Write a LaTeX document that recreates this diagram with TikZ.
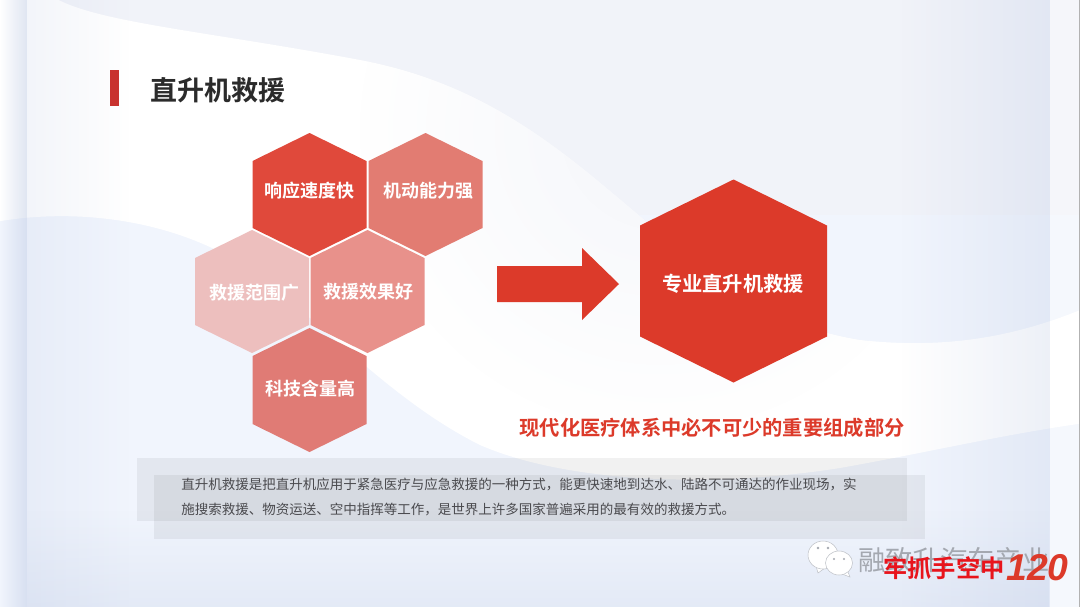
\documentclass[tikz,border=0pt]{standalone}
\usepackage{fontspec}
\setmainfont{Noto Sans CJK SC}[BoldFont={Noto Sans CJK SC Bold}]
\newfontfamily\latinit{Liberation Sans}[Scale=1]
\usetikzlibrary{fadings}
\tikzfading[name=softdisc, inner color=transparent!0, outer color=transparent!100]
\definecolor{bgtop}{HTML}{F1F3F9}
\definecolor{bgblue}{HTML}{F1F5FD}
\definecolor{stripc}{HTML}{B4C2E0}
\definecolor{redmain}{HTML}{DC3A2A}
\definecolor{redhexa}{HTML}{E0493B}
\definecolor{redhexb}{HTML}{E27C72}
\definecolor{redhexc}{HTML}{EDBFBE}
\definecolor{redhexd}{HTML}{E8918B}
\definecolor{redhexe}{HTML}{E07B75}
\definecolor{barred}{HTML}{C8322F}
\definecolor{titleink}{HTML}{2B2B2B}
\definecolor{bodyink}{HTML}{4A4A4E}
\definecolor{markgray}{HTML}{A4A8B0}
\definecolor{stampred}{HTML}{E8141C}
\tikzset{
  hexlabel/.style={text=white,font=\bfseries\fontsize{13.5}{16}\selectfont,inner sep=0pt},
  bignote/.style={font=\bfseries\fontsize{15.2}{18}\selectfont,inner sep=0pt},
  bodyline/.style={text=bodyink,font=\fontsize{10.13}{12}\selectfont,inner sep=0pt,anchor=west},
  panel/.style={fill=black,fill opacity=0.055},
  bubble/.style={fill=white,draw=markgray!70,line width=0.4pt},
  eye/.style={fill=markgray},
}
% centre x, centre y, half width, half height, shoulder drop, colour
\newcommand{\hexpath}[6]{\fill[#6] (#1,#2-#4) -- (#1+#3,#2-#4+#5) -- (#1+#3,#2+#4-#5) -- (#1,#2+#4) -- (#1-#3,#2+#4-#5) -- (#1-#3,#2-#4+#5) -- cycle;}
\newcommand{\swooshpath}{(-5,-5) -- (50,-5) .. controls (90,22) and (200,30) .. (360,60)
  .. controls (520,90) and (600,190) .. (700,265)
  .. controls (760,310) and (800,330) .. (860,340)
  .. controls (950,350) and (1020,335) .. (1085,308)
  -- (1085,423)
  .. controls (1000,435) and (930,452) .. (840,468)
  .. controls (700,490) and (560,480) .. (480,445)
  .. controls (400,405) and (340,340) .. (270,285)
  .. controls (200,225) and (90,205) .. (-5,222) -- cycle}
\begin{document}
\begin{tikzpicture}[x=0.75pt,y=-0.75pt]
\useasboundingbox (0,0) rectangle (1080,607);
\begin{scope}
\clip (0,0) rectangle (1080,607);
% background
\fill[bgtop] (0,0) rectangle (1080,607);
\fill[bgblue] (0,215) rectangle (1080,607);
% white swoosh
\fill[white] \swooshpath;
% soft tone across the upper right of the swoosh
\begin{scope}
\clip \swooshpath;
\fill[bgtop,opacity=0.75,path fading=softdisc] (660,130) circle (300);
\end{scope}
% side strips
\fill[stripc,opacity=0.42,path fading=west] (0,0) rectangle (27,607);
\fill[stripc,opacity=0.16,path fading=east] (27,0) rectangle (130,607);
\fill[stripc,opacity=0.24,path fading=west] (900,0) rectangle (1050,607);
\fill[white,opacity=0.30] (1050,0) rectangle (1080,607);
\fill[stripc,opacity=0.22,path fading=north] (27,510) rectangle (1050,607);
\fill[gray!60] (1079,0) rectangle (1080,607);
\end{scope}
% heading
\fill[barred] (110,70) rectangle (119,106);
\node[text=titleink,font=\bfseries\fontsize{20.25}{24}\selectfont,inner sep=0pt] (title) at (217.5,90.5) {直升机救援};
% hexagon cluster
\hexpath{425.5}{194.5}{57}{61.5}{28}{redhexb}
\hexpath{252}{291.5}{57}{61.5}{28}{redhexc}
\hexpath{367.5}{291.5}{57}{61.5}{28}{redhexd}
\hexpath{309.5}{390}{57}{62}{28}{redhexe}
\hexpath{309.5}{194.5}{57}{61.5}{28}{redhexa}
\node[hexlabel] (h1) at (309,191) {响应速度快};
\node[hexlabel] (h2) at (428,191) {机动能力强};
\node[hexlabel] (h3) at (254.5,293) {救援范围广};
\node[hexlabel] (h4) at (368,292) {救援效果好};
\node[hexlabel] (h5) at (310.5,389) {科技含量高};
% block arrow
\fill[redmain] (497,266) -- (582,266) -- (582,248) -- (619,284) -- (582,320) -- (582,302) -- (497,302) -- cycle;
% large hexagon
\hexpath{733.5}{281}{93.5}{101.5}{46}{redmain}
\node[hexlabel,font=\bfseries\fontsize{15.2}{18}\selectfont] (big) at (733,283.5) {专业直升机救援};
\node[bignote,text=redmain] (note) at (712,428) {现代化医疗体系中必不可少的重要组成部分};
% text panels
\fill[panel] (137,458) rectangle (907,521);
\fill[panel] (154,475) rectangle (925,539);
\node[bodyline] (line1) at (181,484) {直升机救援是把直升机应用于紧急医疗与应急救援的一种方式，能更快速地到达水、陆路不可通达的作业现场，实};
\node[bodyline] (line2) at (181,509) {施搜索救援、物资运送、空中指挥等工作，是世界上许多国家普遍采用的最有效的救援方式。};
% watermark
\draw[bubble] (816,566) -- (818,573) -- (825,568) -- cycle;
\draw[bubble] (823,555) ellipse (15 and 14);
\draw[bubble] (848,572) -- (850,577) -- (842,574);
\draw[bubble] (839,563) ellipse (13.5 and 12);
\fill[eye] (818,548) circle (1.3);
\fill[eye] (828,548) circle (1.3);
\fill[eye] (834,559) circle (1.1);
\fill[eye] (844,559) circle (1.1);
\node[text=markgray,font=\fontsize{20.5}{24}\selectfont,inner sep=0pt,anchor=west] (mark) at (858,560) {融致升汽车产业};
\node[text=stampred,font=\bfseries\fontsize{18.2}{22}\selectfont,inner sep=0pt,anchor=west] (stamp) at (883,568) {牢抓手空中};
\node[text=redmain,font=\latinit\bfseries\itshape\fontsize{28}{30}\selectfont,inner sep=0pt,anchor=west] (num) at (1006,568) {120};
\end{tikzpicture}
\end{document}
